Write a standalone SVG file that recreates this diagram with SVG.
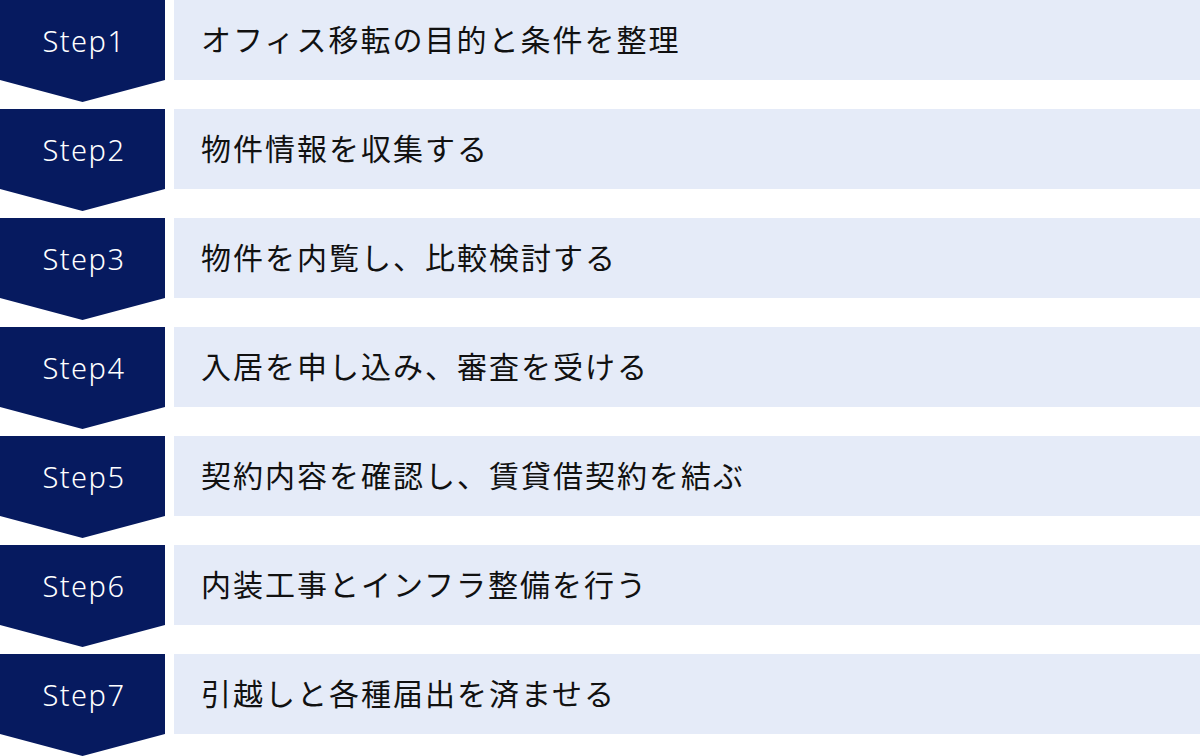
<svg xmlns="http://www.w3.org/2000/svg" width="1200" height="756" viewBox="0 0 1200 756">
<defs>
<style>
.chev{fill:#061a5f}
.box{fill:#e5ebf8}
.step{font-family:"Noto Sans","Liberation Sans",sans-serif;font-size:29px;font-weight:300;fill:#ffffff;text-anchor:middle;letter-spacing:1.5px}
.lbl{font-family:"Noto Sans CJK JP","Noto Sans",sans-serif;font-size:30px;fill:#111111;letter-spacing:2px}
</style>
<path id="chevShape" class="chev" d="M0,0H165V80L82.5,102L0,80Z"/>
<rect id="boxShape" class="box" x="174" y="0" width="1026" height="80"/>
</defs>
<g id="connectors"></g>
<g id="step1" transform="translate(0,0)"><use href="#chevShape"/><use href="#boxShape"/><text class="step" x="84" y="52">Step1</text><text class="lbl" x="201" y="51">オフィス移転の目的と条件を整理</text></g>
<g id="step2" transform="translate(0,109)"><use href="#chevShape"/><use href="#boxShape"/><text class="step" x="84" y="52">Step2</text><text class="lbl" x="201" y="51">物件情報を収集する</text></g>
<g id="step3" transform="translate(0,218)"><use href="#chevShape"/><use href="#boxShape"/><text class="step" x="84" y="52">Step3</text><text class="lbl" x="201" y="51">物件を内覧し、比較検討する</text></g>
<g id="step4" transform="translate(0,327)"><use href="#chevShape"/><use href="#boxShape"/><text class="step" x="84" y="52">Step4</text><text class="lbl" x="201" y="51">入居を申し込み、審査を受ける</text></g>
<g id="step5" transform="translate(0,436)"><use href="#chevShape"/><use href="#boxShape"/><text class="step" x="84" y="52">Step5</text><text class="lbl" x="201" y="51">契約内容を確認し、賃貸借契約を結ぶ</text></g>
<g id="step6" transform="translate(0,545)"><use href="#chevShape"/><use href="#boxShape"/><text class="step" x="84" y="52">Step6</text><text class="lbl" x="201" y="51">内装工事とインフラ整備を行う</text></g>
<g id="step7" transform="translate(0,654)"><use href="#chevShape"/><use href="#boxShape"/><text class="step" x="84" y="52">Step7</text><text class="lbl" x="201" y="51">引越しと各種届出を済ませる</text></g>
</svg>
